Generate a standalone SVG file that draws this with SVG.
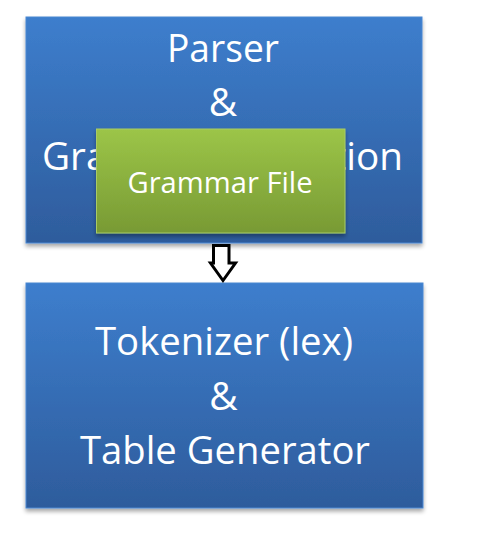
<svg xmlns="http://www.w3.org/2000/svg" width="489" height="551" viewBox="0 0 489 551">
  <defs>
    <linearGradient id="blueGrad" x1="0" y1="0" x2="0" y2="1">
      <stop offset="0" stop-color="#3d7ecd"/>
      <stop offset="1" stop-color="#2e5c9c"/>
    </linearGradient>
    <linearGradient id="greenGrad" x1="0" y1="0" x2="0" y2="1">
      <stop offset="0" stop-color="#9cc548"/>
      <stop offset="1" stop-color="#789a34"/>
    </linearGradient>
    <filter id="shadow" x="-10%" y="-10%" width="120%" height="125%">
      <feGaussianBlur in="SourceAlpha" stdDeviation="2"/>
      <feOffset dx="0" dy="3" result="b"/>
      <feComponentTransfer><feFuncA type="linear" slope="0.35"/></feComponentTransfer>
      <feMerge><feMergeNode/><feMergeNode in="SourceGraphic"/></feMerge>
    </filter>
  </defs>
  <style>
    .blue { fill: url(#blueGrad); stroke: #4a88d2; stroke-width: 1; filter: url(#shadow); }
    .green { fill: url(#greenGrad); stroke: #a9cb66; stroke-width: 1; filter: url(#shadow); }
    .big { font-family: "Open Sans", "Noto Sans", "Liberation Sans", sans-serif; font-size: 39px; fill: #ffffff; text-anchor: middle; }
    .mid { font-family: "Open Sans", "Noto Sans", "Liberation Sans", sans-serif; font-size: 29px; fill: #ffffff; text-anchor: middle; }
    .arrow { fill: #ffffff; stroke: #000000; stroke-width: 3; stroke-linejoin: miter; }
  </style>
  <rect width="489" height="551" fill="#ffffff"/>
  <g id="parser">
    <rect class="blue" x="26" y="17" width="396" height="226"/>
    <text class="big" x="223" y="62" textLength="112" lengthAdjust="spacingAndGlyphs">Parser</text>
    <text class="big" x="223" y="116">&amp;</text>
    <text class="big" x="222.5" y="170" textLength="361" lengthAdjust="spacingAndGlyphs">Grammar Definition</text>
  </g>
  <g id="grammar-file">
    <rect class="green" x="96.5" y="129" width="248.5" height="104"/>
    <text class="mid" x="220" y="193" textLength="185" lengthAdjust="spacingAndGlyphs">Grammar File</text>
  </g>
  <g id="tokenizer">
    <rect class="blue" x="26" y="283" width="397" height="225"/>
    <text class="big" x="224" y="355" textLength="258" lengthAdjust="spacingAndGlyphs">Tokenizer (lex)</text>
    <text class="big" x="223.5" y="410">&amp;</text>
    <text class="big" x="225" y="464" textLength="290" lengthAdjust="spacingAndGlyphs">Table Generator</text>
  </g>
  <g id="connectors">
    <path class="arrow" d="M213.5,245.5 H229 V263 H235.5 L223,280.5 L210.5,263 H213.5 Z"/>
  </g>
</svg>
